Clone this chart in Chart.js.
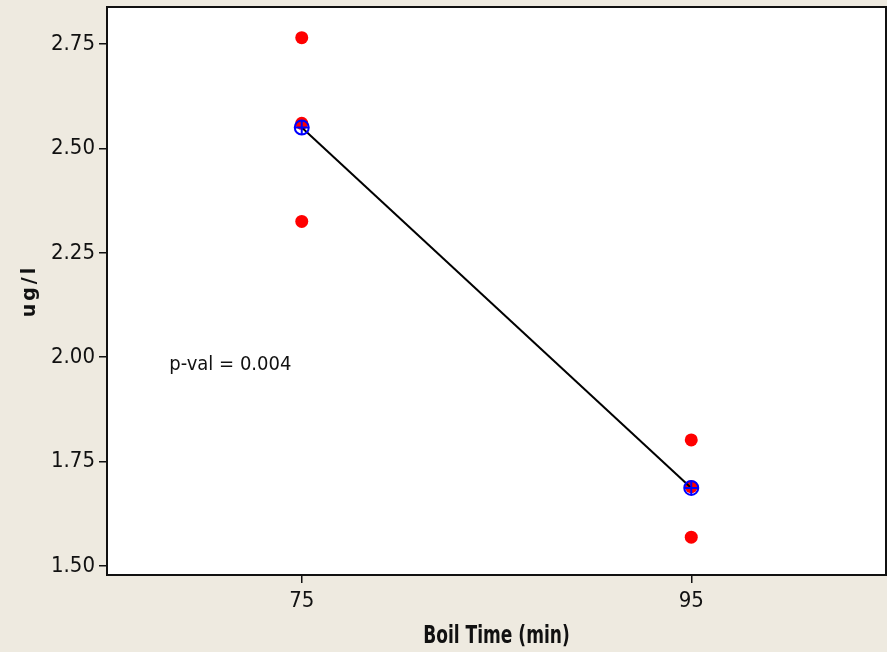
<!DOCTYPE html>
<html>
<head>
<meta charset="utf-8">
<title>ug/l by Boil Time</title>
<script src="https://cdn.jsdelivr.net/npm/chart.js@4.4.1/dist/chart.umd.min.js"></script>
<style>
  html, body { margin: 0; padding: 0; background: #EEEAE0; }
  #wrap { width: 887px; height: 652px; }
</style>
</head>
<body>
<div id="wrap"><canvas id="chart" width="887" height="652"></canvas></div>
<script>
// Boil time groups and individual measurements (ug/l)
const boilTimes = [75, 95];
const values75 = [2.765, 2.560, 2.325];
const values95 = [1.802, 1.690, 1.569];
const groupMeans = [2.550, 1.687];
const yTickValues = [1.50, 1.75, 2.00, 2.25, 2.50, 2.75];
const xTickValues = [75, 95];
const xTitle = 'Boil Time (min)';
const yTitle = 'ug/l';
const pValueText = 'p-val = 0.004';

const individualPoints = [
  ...values75.map(v => ({ x: boilTimes[0], y: v })),
  ...values95.map(v => ({ x: boilTimes[1], y: v }))
];
const meanPoints = boilTimes.map((t, i) => ({ x: t, y: groupMeans[i] }));

const tickFont = { family: '"Liberation Sans Narrow", "DejaVu Sans Condensed", sans-serif', size: 22 };

// Keep the plot panel at a fixed size: no extra room for label overflow
function fixPadding(scale) {
  scale.paddingLeft = 0;
  scale.paddingRight = 0;
  scale.paddingTop = 0;
  scale.paddingBottom = 0;
}

// White plot panel with a dark frame, axis titles and the p-value note
const panelPlugin = {
  id: 'panel',
  beforeDatasetsDraw(chart) {
    const { ctx, chartArea: a } = chart;
    ctx.save();
    ctx.fillStyle = '#FFFFFF';
    ctx.fillRect(a.left, a.top, a.right - a.left, a.bottom - a.top);
    ctx.restore();
  },
  afterDatasetsDraw(chart) {
    const { ctx, chartArea: a, scales } = chart;
    ctx.save();
    ctx.strokeStyle = '#111111';
    ctx.lineWidth = 2;
    ctx.strokeRect(a.left, a.top, a.right - a.left, a.bottom - a.top);

    // p-value annotation
    ctx.fillStyle = '#111111';
    ctx.font = '20px "DejaVu Sans Condensed", "DejaVu Sans", sans-serif';
    ctx.textAlign = 'left';
    ctx.textBaseline = 'middle';
    ctx.fillText(pValueText, scales.x.getPixelForValue(68.2), scales.y.getPixelForValue(1.983));
    ctx.restore();

    // x axis title, set in a narrow bold face
    ctx.save();
    ctx.fillStyle = '#111111';
    ctx.font = 'bold 24px "DejaVu Sans Condensed", "DejaVu Sans", sans-serif';
    ctx.textAlign = 'center';
    ctx.textBaseline = 'alphabetic';
    ctx.translate((a.left + a.right) / 2, 643);
    ctx.scale(0.79, 1);
    ctx.fillText(xTitle, 0, 0);
    ctx.restore();

    // y axis title
    ctx.save();
    ctx.fillStyle = '#111111';
    ctx.translate(30, 291);
    ctx.rotate(-Math.PI / 2);
    ctx.font = 'bold 19px "DejaVu Sans", sans-serif';
    ctx.letterSpacing = '3px';
    ctx.textAlign = 'center';
    ctx.textBaseline = 'middle';
    ctx.fillText(yTitle, 0, 0);
    ctx.restore();
  }
};

new Chart(document.getElementById('chart'), {
  type: 'scatter',
  data: {
    datasets: [
      {
        label: 'Mean cross',
        data: meanPoints,
        pointStyle: 'cross',
        pointRadius: 7,
        borderColor: '#0000FF',
        borderWidth: 2,
        order: 0
      },
      {
        label: 'Mean ring',
        data: meanPoints,
        pointStyle: 'circle',
        pointRadius: 7,
        backgroundColor: 'rgba(0,0,0,0)',
        borderColor: '#0000FF',
        borderWidth: 2,
        order: 1
      },
      {
        label: 'Mean line',
        type: 'line',
        data: meanPoints,
        showLine: true,
        borderColor: '#000000',
        borderWidth: 2,
        pointRadius: 0,
        fill: false,
        order: 2
      },
      {
        label: yTitle,
        data: individualPoints,
        pointStyle: 'circle',
        pointRadius: 6.5,
        backgroundColor: '#FF0000',
        borderWidth: 0,
        order: 3
      }
    ]
  },
  options: {
    responsive: false,
    animation: false,
    layout: { autoPadding: false, padding: { top: 7, right: 1, left: 0, bottom: 0 } },
    plugins: { legend: { display: false }, tooltip: { enabled: false } },
    scales: {
      x: {
        type: 'linear',
        min: 65,
        max: 105,
        afterFit(scale) { scale.height = 77; fixPadding(scale); },
        afterBuildTicks(scale) { scale.ticks = xTickValues.map(v => ({ value: v })); },
        grid: { drawOnChartArea: false, drawTicks: true, tickLength: 8, color: '#111111', lineWidth: 1.5 },
        border: { display: false },
        ticks: { color: '#111111', font: tickFont, padding: 5, maxRotation: 0, callback: v => String(v) },
        title: { display: false }
      },
      y: {
        type: 'linear',
        min: 1.4785,
        max: 2.8385,
        afterFit(scale) { scale.width = 107; fixPadding(scale); },
        afterBuildTicks(scale) { scale.ticks = yTickValues.map(v => ({ value: v })); },
        grid: { drawOnChartArea: false, drawTicks: true, tickLength: 8, color: '#111111', lineWidth: 1.5 },
        border: { display: false },
        ticks: { color: '#111111', font: tickFont, padding: 4, callback: v => Number(v).toFixed(2) }
      }
    }
  },
  plugins: [panelPlugin]
});
</script>
</body>
</html>
